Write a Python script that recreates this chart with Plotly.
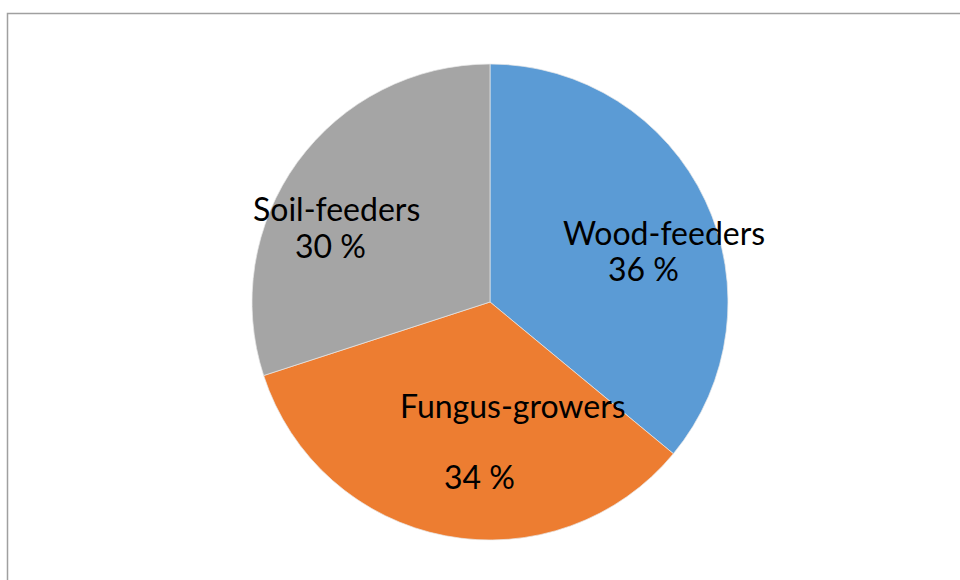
import plotly.graph_objects as go

categories = ["Wood-feeders", "Fungus-growers", "Soil-feeders"]
values = [36, 34, 30]
colors = ["#5B9BD5", "#ED7D31", "#A5A5A5"]

W, H = 960, 580
cx, cy, r = 490, 302, 238

# label positions (pixel centres) for name line and percent line
name_pos = [(664, 232), (513, 405), (336, 208)]
pct_pos = [(643, 268), (479, 476), (330, 245)]

fig = go.Figure(go.Pie(
    labels=categories,
    values=values,
    sort=False,
    direction="clockwise",
    rotation=0,
    marker=dict(colors=colors, line=dict(color="#E8E8E8", width=0.7)),
    textinfo="none",
    hoverinfo="label+percent",
    showlegend=False,
    domain=dict(x=[(cx - r) / W, (cx + r) / W], y=[1 - (cy + r) / H, 1 - (cy - r) / H]),
))

font = dict(family="Lato, Carlito, Calibri, sans-serif", size=32, color="#000000")
annotations = []
for cat, val, (nx, ny), (px, py) in zip(categories, values, name_pos, pct_pos):
    annotations.append(dict(text=cat, x=nx / W, y=1 - ny / H, xref="paper", yref="paper",
                            xanchor="center", yanchor="middle", showarrow=False, font=font))
    annotations.append(dict(text=f"{val} %", x=px / W, y=1 - py / H, xref="paper", yref="paper",
                            xanchor="center", yanchor="middle", showarrow=False, font=font))

fig.update_layout(
    width=W, height=H,
    margin=dict(l=0, r=0, t=0, b=0),
    paper_bgcolor="white",
    plot_bgcolor="white",
    annotations=annotations,
    shapes=[dict(type="rect", xref="paper", yref="paper",
                 x0=7.5 / W, x1=1.05, y0=-0.05, y1=1 - 13.5 / H,
                 line=dict(color="#A0A0A0", width=1.5), fillcolor="rgba(0,0,0,0)", layer="below")],
)

fig.write_html("out.html", config={"displayModeBar": False},
               post_script="document.body.style.margin='0';document.body.style.overflow='hidden';")
